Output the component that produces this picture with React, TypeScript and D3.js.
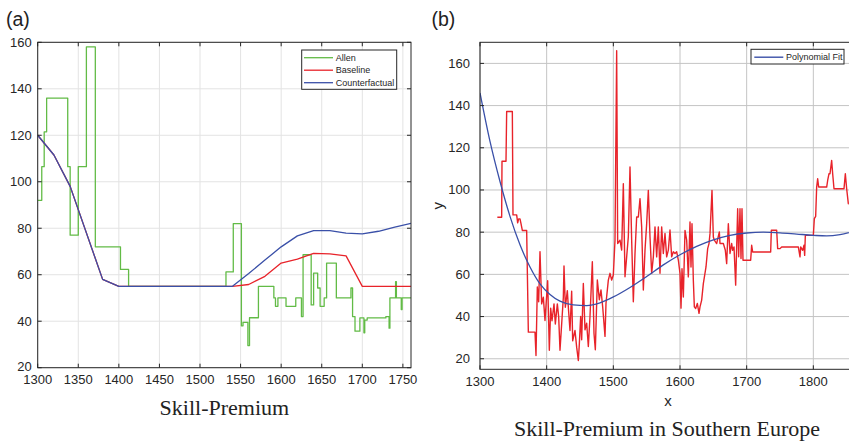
import React from "react";
import * as d3 from "d3";

// ---- panel (a) data: skill premium, Allen vs model ----
const ticksXA = [1300, 1350, 1400, 1450, 1500, 1550, 1600, 1650, 1700, 1750];
const ticksYA = [20, 40, 60, 80, 100, 120, 140, 160];

// Allen series, [year, value] break points of a step line
const allen = [
  [1300, 92], [1305, 106.5], [1308, 121.5], [1311, 136], [1337, 106.5], [1340, 77],
  [1350, 106.5], [1360, 158], [1371, 72], [1402, 62.3], [1412, 55], [1532, 61.2],
  [1541, 82], [1551, 38], [1553, 39.5], [1559, 29.5], [1561, 41.5], [1572, 55],
  [1591, 50], [1593, 46.4], [1596, 50], [1606, 46.4], [1618, 50], [1625, 42],
  [1627, 68.6], [1637, 47], [1640, 60.7], [1645, 54.3], [1648, 46.4], [1653, 50],
  [1656, 65], [1668, 50], [1686, 54.3], [1688, 42], [1691, 35.7], [1697, 41.4],
  [1702, 35], [1703, 40.5], [1706, 41.4], [1729, 42], [1733, 37], [1734, 50],
  [1741, 57], [1742, 50], [1748, 45], [1749, 50], [1760, 50],
];

const baseline = [
  [1300, 120], [1320, 111.5], [1340, 98], [1380, 58], [1400, 55], [1540, 55],
  [1560, 55.8], [1580, 59.3], [1600, 65], [1620, 66.7], [1640, 69.2], [1660, 69],
  [1680, 68.1], [1700, 55], [1760, 55],
];

const counterfactual = [
  [1300, 120], [1320, 111.5], [1340, 98], [1380, 58], [1400, 55], [1540, 55],
  [1560, 60.5], [1580, 66.3], [1600, 72], [1620, 76.7], [1640, 79], [1660, 79],
  [1680, 77.9], [1700, 77.6], [1720, 78.7], [1740, 80.5], [1760, 82.1],
];

// ---- panel (b) data: southern Europe ----
const ticksXB = [1300, 1400, 1500, 1600, 1700, 1800];
const ticksYB = [20, 40, 60, 80, 100, 120, 140, 160];

const southern = [
  [1326, 87.1], [1332.5, 87.1], [1333, 113.6], [1339, 113.6], [1340, 137.2], [1348.5, 137.2],
  [1349.5, 88.2], [1355, 88.2], [1356.5, 84.4], [1358, 86.3], [1360, 86.3], [1361.5, 84],
  [1363.5, 80.8], [1370, 80.8], [1372.5, 32.6], [1382.5, 32.6], [1384, 21.5], [1386, 54],
  [1388, 47], [1390, 70.8], [1392.5, 46], [1395, 49.2], [1397.5, 38.1], [1401.5, 57],
  [1404, 24], [1406, 44], [1408, 38], [1411, 46], [1413, 36.5], [1416, 46], [1418, 40],
  [1420, 24], [1422.5, 36.5], [1425, 49], [1426, 64], [1428, 44.4], [1431, 52.3],
  [1432.5, 44.4], [1435, 33.4], [1437.5, 52], [1439, 28.5], [1442.5, 33.4], [1445, 25.5],
  [1447.5, 19.2], [1449, 27], [1451, 40], [1452.5, 29], [1455, 55.7], [1457.5, 33.7],
  [1460, 36.9], [1462.5, 25.8], [1465, 40], [1468.5, 66], [1471, 32], [1473, 24.3],
  [1476, 57.3], [1479, 48], [1481.5, 52.6], [1484, 44.7], [1487.5, 30.6], [1489, 46.3],
  [1492.5, 57.3], [1495, 60.5], [1497.5, 57.3], [1500, 59.7], [1502.5, 76.2], [1505, 166],
  [1506.5, 74.6], [1510, 76.2], [1512.5, 71.5], [1515, 103], [1517.5, 58.9], [1520, 68.3],
  [1522.5, 77.8], [1525, 110.9], [1527.5, 76.2], [1530, 47], [1532.5, 69.9], [1535, 87.2],
  [1537.5, 87.2], [1540, 95.9], [1542.5, 82.5], [1545, 52.6], [1547.5, 71.5], [1550, 84],
  [1552.5, 99.8], [1555, 77.8], [1557.5, 60.5], [1560, 68.3], [1562.5, 82.5], [1565, 68.3],
  [1567.5, 82.5], [1570, 60.5], [1572.5, 82.5], [1575, 69.9], [1577.5, 79.4], [1580, 68.3],
  [1582.5, 71.5], [1585, 81], [1587.5, 68.3], [1590, 70.7], [1592.5, 69.9], [1595, 70.7],
  [1597.5, 66.8], [1600, 60.5], [1601.5, 44], [1603, 62.7], [1605, 49.3], [1607.5, 80.8],
  [1610, 76.2], [1612.5, 58.8], [1615, 84.8], [1616.5, 63.5], [1618, 84], [1620, 57.2],
  [1621.5, 44.6], [1623.5, 43.8], [1626, 46.2], [1628.5, 41.5], [1630, 44.6], [1632.5, 47.8],
  [1635, 55.6], [1639, 63.5], [1641.5, 72.2], [1643.5, 74.6], [1645, 79.3], [1648, 99.8],
  [1650, 77.7], [1651.5, 76.2], [1655, 74.6], [1659, 80.1], [1660, 74.6], [1665, 74.6],
  [1668, 71.4], [1670, 65.1], [1672.5, 84], [1675, 69.9], [1677.5, 74.6], [1679, 71.4],
  [1681, 73], [1683.5, 54.9], [1685, 73], [1686.5, 91.1], [1688, 68.3], [1690, 91.1],
  [1691.5, 67.5], [1693, 91.1], [1694.5, 66.7], [1706, 66.7], [1707.5, 73.8], [1709, 70.6],
  [1736, 70.6], [1737, 80.9], [1745, 80.9], [1746.5, 72.2], [1750, 72.2], [1752.5, 73],
  [1777.5, 73], [1780, 68.3], [1781, 73], [1784, 71.4], [1786, 73.8], [1787, 69],
  [1788, 78.5], [1800, 78.5], [1801.5, 86.4], [1803.5, 87.5], [1805, 101.4], [1806.5, 105.3],
  [1808, 101.4], [1820, 101.4], [1821.5, 104.5], [1823.5, 107.7], [1825, 107.7], [1827.5, 114],
  [1829, 107.7], [1831, 100.6], [1846, 100.6], [1848, 107.7], [1850, 100.6], [1852.5, 93.5],
  [1858, 93],
];

const polyFit = [
  [1300, 146], [1315, 123], [1330, 104], [1345, 87.5], [1360, 74], [1375, 63.5],
  [1390, 55.5], [1405, 50.5], [1420, 47.3], [1440, 45.5], [1460, 45.2], [1480, 46.5],
  [1500, 49.3], [1525, 53.8], [1550, 59], [1575, 64.5], [1600, 69.3], [1625, 73.3],
  [1650, 76.4], [1675, 78.5], [1700, 79.6], [1725, 80], [1750, 79.7], [1775, 79.1],
  [1800, 78.5], [1820, 78.2], [1840, 78.8], [1862, 80.5],
];

const SANS = "'Liberation Sans', Arial, sans-serif";
const SERIF = "'Liberation Serif', 'Times New Roman', serif";
const AXIS = "#262626";
const GREEN = "#62bb46";
const RED = "#e8232a";
const BLUE = "#3a50a8";

function Panel({ left, right, top, bottom, xDomain, yDomain, xTicks, yTicks, gridColor, id, children }) {
  const x = d3.scaleLinear().domain(xDomain).range([left, right]);
  const y = d3.scaleLinear().domain(yDomain).range([bottom, top]);
  return (
    <g>
      <defs>
        <clipPath id={id}>
          <rect x={left} y={top} width={right - left} height={bottom - top} />
        </clipPath>
      </defs>
      <rect x={left} y={top} width={right - left} height={bottom - top} fill="#fff" />
      {xTicks.map((t) => (
        <line key={"gx" + t} x1={x(t)} x2={x(t)} y1={top} y2={bottom} stroke={gridColor} strokeWidth={1} />
      ))}
      {yTicks.map((t) => (
        <line key={"gy" + t} x1={left} x2={right} y1={y(t)} y2={y(t)} stroke={gridColor} strokeWidth={1} />
      ))}
      <g clipPath={`url(#${id})`}>{children(x, y)}</g>
      {/* box and inward ticks */}
      <rect x={left} y={top} width={right - left} height={bottom - top} fill="none" stroke={AXIS} strokeWidth={1} />
      {xTicks.map((t) => (
        <g key={"tx" + t}>
          <line x1={x(t)} x2={x(t)} y1={bottom} y2={bottom - 4} stroke={AXIS} />
          <line x1={x(t)} x2={x(t)} y1={top} y2={top + 4} stroke={AXIS} />
        </g>
      ))}
      {yTicks.map((t) => (
        <g key={"ty" + t}>
          <line x1={left} x2={left + 4} y1={y(t)} y2={y(t)} stroke={AXIS} />
          <line x1={right} x2={right - 4} y1={y(t)} y2={y(t)} stroke={AXIS} />
        </g>
      ))}
    </g>
  );
}

export default function App() {
  // panel (a) frame
  const aL = 37.7, aR = 411, aT = 42.3, aB = 367.7;
  // panel (b) frame
  const bL = 480, bR = 855, bT = 42.3, bB = 369.3;

  const xa = d3.scaleLinear().domain([1300, 1760]).range([aL, aR]);
  const ya = d3.scaleLinear().domain([20, 160]).range([aB, aT]);
  const xb = d3.scaleLinear().domain([1300, 1862.5]).range([bL, bR]);
  const yb = d3.scaleLinear().domain([15, 170]).range([bB, bT]);

  const mk = (x, y, curve = d3.curveLinear) =>
    d3.line().x((d) => x(d[0])).y((d) => y(d[1])).curve(curve);

  return (
    <svg width={849} height={443} style={{ position: "absolute", left: 0, top: 0, background: "#fff" }}
      fontFamily={SANS}>
      <rect width={849} height={443} fill="#fff" />

      {/* (a) */}
      <text x={6} y={25.5} fontSize={19.5} fill="#222">(a)</text>
      <Panel id="clipA" left={aL} right={aR} top={aT} bottom={aB} xDomain={[1300, 1760]} yDomain={[20, 160]}
        xTicks={ticksXA} yTicks={ticksYA} gridColor="#e3e3e3">
        {(x, y) => (
          <g fill="none" strokeWidth={1.3} strokeLinejoin="round">
            <path d={mk(x, y, d3.curveStepAfter)(allen)} stroke={GREEN} />
            <path d={mk(x, y)(baseline)} stroke={RED} />
            <path d={mk(x, y)(counterfactual)} stroke={BLUE} />
          </g>
        )}
      </Panel>
      {ticksXA.map((t) => (
        <text key={"lxa" + t} x={xa(t)} y={383.5} fontSize={13} fill={AXIS} textAnchor="middle">{t}</text>
      ))}
      {ticksYA.map((t) => (
        <text key={"lya" + t} x={aL - 6} y={ya(t) + (t === 20 ? 3 : 4.5)} fontSize={13} fill={AXIS} textAnchor="end">{t}</text>
      ))}
      <g>
        <rect x={301.7} y={50} width={95} height={39.3} fill="#fff" stroke={AXIS} strokeWidth={1} />
        {[["Allen", GREEN], ["Baseline", RED], ["Counterfactual", BLUE]].map(([name, c], i) => (
          <g key={name}>
            <line x1={304} x2={333} y1={57.7 + i * 12.5} y2={57.7 + i * 12.5} stroke={c} strokeWidth={1.3} />
            <text x={335.7} y={60.8 + i * 12.5} fontSize={9} fill={AXIS}>{name}</text>
          </g>
        ))}
      </g>
      <text x={224.4} y={415} fontSize={22} fontFamily={SERIF} fill="#222" textAnchor="middle">Skill-Premium</text>

      {/* (b) */}
      <text x={431.5} y={25.5} fontSize={19.5} fill="#222">(b)</text>
      <Panel id="clipB" left={bL} right={bR} top={bT} bottom={bB} xDomain={[1300, 1862.5]} yDomain={[15, 170]}
        xTicks={ticksXB} yTicks={ticksYB} gridColor="#c4c4c4">
        {(x, y) => (
          <g fill="none" strokeLinejoin="round">
            <path d={mk(x, y)(southern)} stroke={RED} strokeWidth={1.4} />
            <path d={mk(x, y, d3.curveMonotoneX)(polyFit)} stroke={BLUE} strokeWidth={1.3} />
          </g>
        )}
      </Panel>
      {ticksXB.map((t) => (
        <text key={"lxb" + t} x={xb(t)} y={386} fontSize={13} fill={AXIS} textAnchor="middle">{t}</text>
      ))}
      {ticksYB.map((t) => (
        <text key={"lyb" + t} x={bL - 10} y={yb(t) + 4.5} fontSize={13} fill={AXIS} textAnchor="end">{t}</text>
      ))}
      <text x={668} y={406} fontSize={15} fill={AXIS} textAnchor="middle">x</text>
      <text transform={`translate(443,${(bT + bB) / 2}) rotate(-90)`} fontSize={15} fill={AXIS} textAnchor="middle">y</text>
      <g>
        <rect x={751} y={49.3} width={93} height={14.7} fill="#fff" stroke={AXIS} strokeWidth={1} />
        <line x1={754.3} x2={783.3} y1={57.2} y2={57.2} stroke={BLUE} strokeWidth={1.4} />
        <text x={786} y={60.3} fontSize={9} fill={AXIS}>Polynomial Fit</text>
      </g>
      <text x={667} y={436} fontSize={22} fontFamily={SERIF} fill="#222" textAnchor="middle">
        Skill-Premium in Southern Europe
      </text>
    </svg>
  );
}
